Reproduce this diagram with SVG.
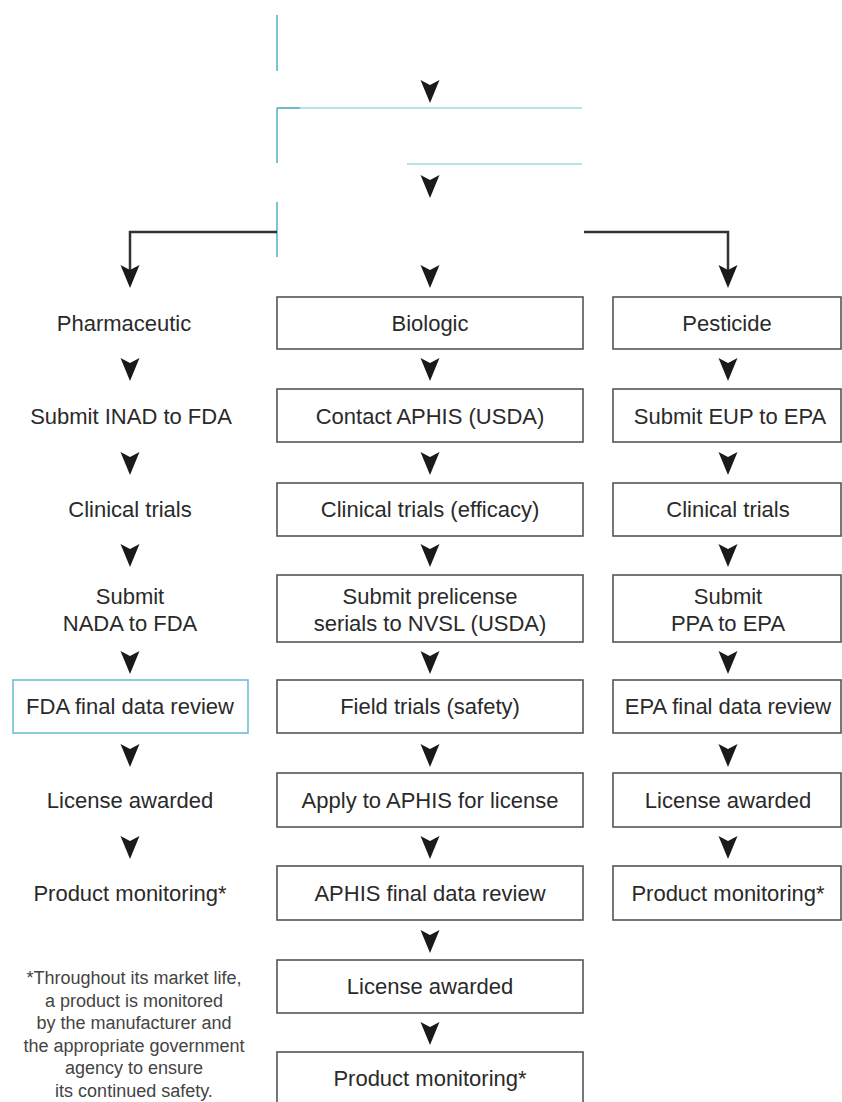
<svg xmlns="http://www.w3.org/2000/svg" width="842" height="1102" viewBox="0 0 842 1102">
<style>
.bx{fill:#fff;stroke:#555;stroke-width:1.6}
.bt{fill:#fff;stroke:#6cc0d0;stroke-width:1.6}
.t{font-family:"Liberation Sans",Arial,sans-serif;font-size:22px;fill:#2a2a2a;text-anchor:middle}
.fn{font-family:"Liberation Sans",Arial,sans-serif;font-size:18px;fill:#444;text-anchor:middle}
.tl{fill:none;stroke:#5ab5c7;stroke-width:1.6}
.tll{fill:none;stroke:#a6d8e2;stroke-width:1.6}
.cn{fill:none;stroke:#333;stroke-width:2.5}
.ah{fill:#1a1a1a}
</style>
<defs>
<path id="ah" class="ah" d="M-9.5,0 L0,5 L9.5,0 L0,23 Z"/>
</defs>
<rect width="842" height="1102" fill="#fff"/>

<g id="top-lines">
<line class="tl" x1="277" y1="15" x2="277" y2="71"/>
<line class="tll" x1="277" y1="108" x2="582" y2="108"/>
<line class="tl" x1="277" y1="108" x2="300" y2="108"/>
<line class="tl" x1="277" y1="108" x2="277" y2="163"/>
<line class="tll" x1="407" y1="164" x2="582" y2="164"/>
<line class="tl" x1="277" y1="202" x2="277" y2="257"/>
</g>

<g id="connectors">
<polyline class="cn" points="277,232 130,232 130,272"/>
<polyline class="cn" points="584,232 728,232 728,272"/>
<use href="#ah" x="430" y="80"/>
<use href="#ah" x="430" y="175"/>
<use href="#ah" x="130" y="265"/>
<use href="#ah" x="430" y="265"/>
<use href="#ah" x="728" y="265"/>
<use href="#ah" x="130" y="358"/><use href="#ah" x="430" y="358"/><use href="#ah" x="728" y="358"/>
<use href="#ah" x="130" y="452"/><use href="#ah" x="430" y="452"/><use href="#ah" x="728" y="452"/>
<use href="#ah" x="130" y="544"/><use href="#ah" x="430" y="544"/><use href="#ah" x="728" y="544"/>
<use href="#ah" x="130" y="651"/><use href="#ah" x="430" y="651"/><use href="#ah" x="728" y="651"/>
<use href="#ah" x="130" y="744"/><use href="#ah" x="430" y="744"/><use href="#ah" x="728" y="744"/>
<use href="#ah" x="130" y="836"/><use href="#ah" x="430" y="836"/><use href="#ah" x="728" y="836"/>
<use href="#ah" x="430" y="930"/>
<use href="#ah" x="430" y="1022"/>
</g>

<g id="pharmaceutic"><text class="t" x="124" y="331">Pharmaceutic</text></g>
<g id="submit-inad"><text class="t" x="131" y="424">Submit INAD to FDA</text></g>
<g id="clinical-trials-pharma"><text class="t" x="130" y="517">Clinical trials</text></g>
<g id="submit-nada"><text class="t" x="130" y="604">Submit</text><text class="t" x="130" y="631">NADA to FDA</text></g>
<g id="fda-review"><rect class="bt" x="13" y="680" width="235" height="53"/><text class="t" x="130" y="714">FDA final data review</text></g>
<g id="license-pharma"><text class="t" x="130" y="808">License awarded</text></g>
<g id="monitoring-pharma"><text class="t" x="130" y="901">Product monitoring*</text></g>

<g id="biologic"><rect class="bx" x="277" y="297" width="306" height="52"/><text class="t" x="430" y="331">Biologic</text></g>
<g id="contact-aphis"><rect class="bx" x="277" y="389" width="306" height="53"/><text class="t" x="430" y="424">Contact APHIS (USDA)</text></g>
<g id="clinical-efficacy"><rect class="bx" x="277" y="483" width="306" height="53"/><text class="t" x="430" y="517">Clinical trials (efficacy)</text></g>
<g id="submit-prelicense"><rect class="bx" x="277" y="575" width="306" height="67"/><text class="t" x="430" y="604">Submit prelicense</text><text class="t" x="430" y="631">serials to NVSL (USDA)</text></g>
<g id="field-trials"><rect class="bx" x="277" y="680" width="306" height="53"/><text class="t" x="430" y="714">Field trials (safety)</text></g>
<g id="apply-aphis"><rect class="bx" x="277" y="773" width="306" height="54"/><text class="t" x="430" y="808">Apply to APHIS for license</text></g>
<g id="aphis-review"><rect class="bx" x="277" y="866" width="306" height="54"/><text class="t" x="430" y="901">APHIS final data review</text></g>
<g id="license-bio"><rect class="bx" x="277" y="960" width="306" height="53"/><text class="t" x="430" y="994">License awarded</text></g>
<g id="monitoring-bio"><rect class="bx" x="277" y="1052" width="306" height="70"/><text class="t" x="430" y="1086">Product monitoring*</text></g>

<g id="pesticide"><rect class="bx" x="613" y="297" width="228" height="52"/><text class="t" x="727" y="331">Pesticide</text></g>
<g id="submit-eup"><rect class="bx" x="613" y="389" width="228" height="53"/><text class="t" x="730" y="424">Submit EUP to EPA</text></g>
<g id="clinical-pest"><rect class="bx" x="613" y="483" width="228" height="53"/><text class="t" x="728" y="517">Clinical trials</text></g>
<g id="submit-ppa"><rect class="bx" x="613" y="575" width="228" height="67"/><text class="t" x="728" y="604">Submit</text><text class="t" x="728" y="631">PPA to EPA</text></g>
<g id="epa-review"><rect class="bx" x="613" y="680" width="228" height="53"/><text class="t" x="728" y="714">EPA final data review</text></g>
<g id="license-pest"><rect class="bx" x="613" y="773" width="228" height="54"/><text class="t" x="728" y="808">License awarded</text></g>
<g id="monitoring-pest"><rect class="bx" x="613" y="866" width="228" height="54"/><text class="t" x="728" y="901">Product monitoring*</text></g>

<g id="footnote">
<text class="fn" x="134" y="984">*Throughout its market life,</text>
<text class="fn" x="134" y="1007">a product is monitored</text>
<text class="fn" x="134" y="1029">by the manufacturer and</text>
<text class="fn" x="134" y="1052">the appropriate government</text>
<text class="fn" x="134" y="1074">agency to ensure</text>
<text class="fn" x="134" y="1097">its continued safety.</text>
</g>
</svg>
